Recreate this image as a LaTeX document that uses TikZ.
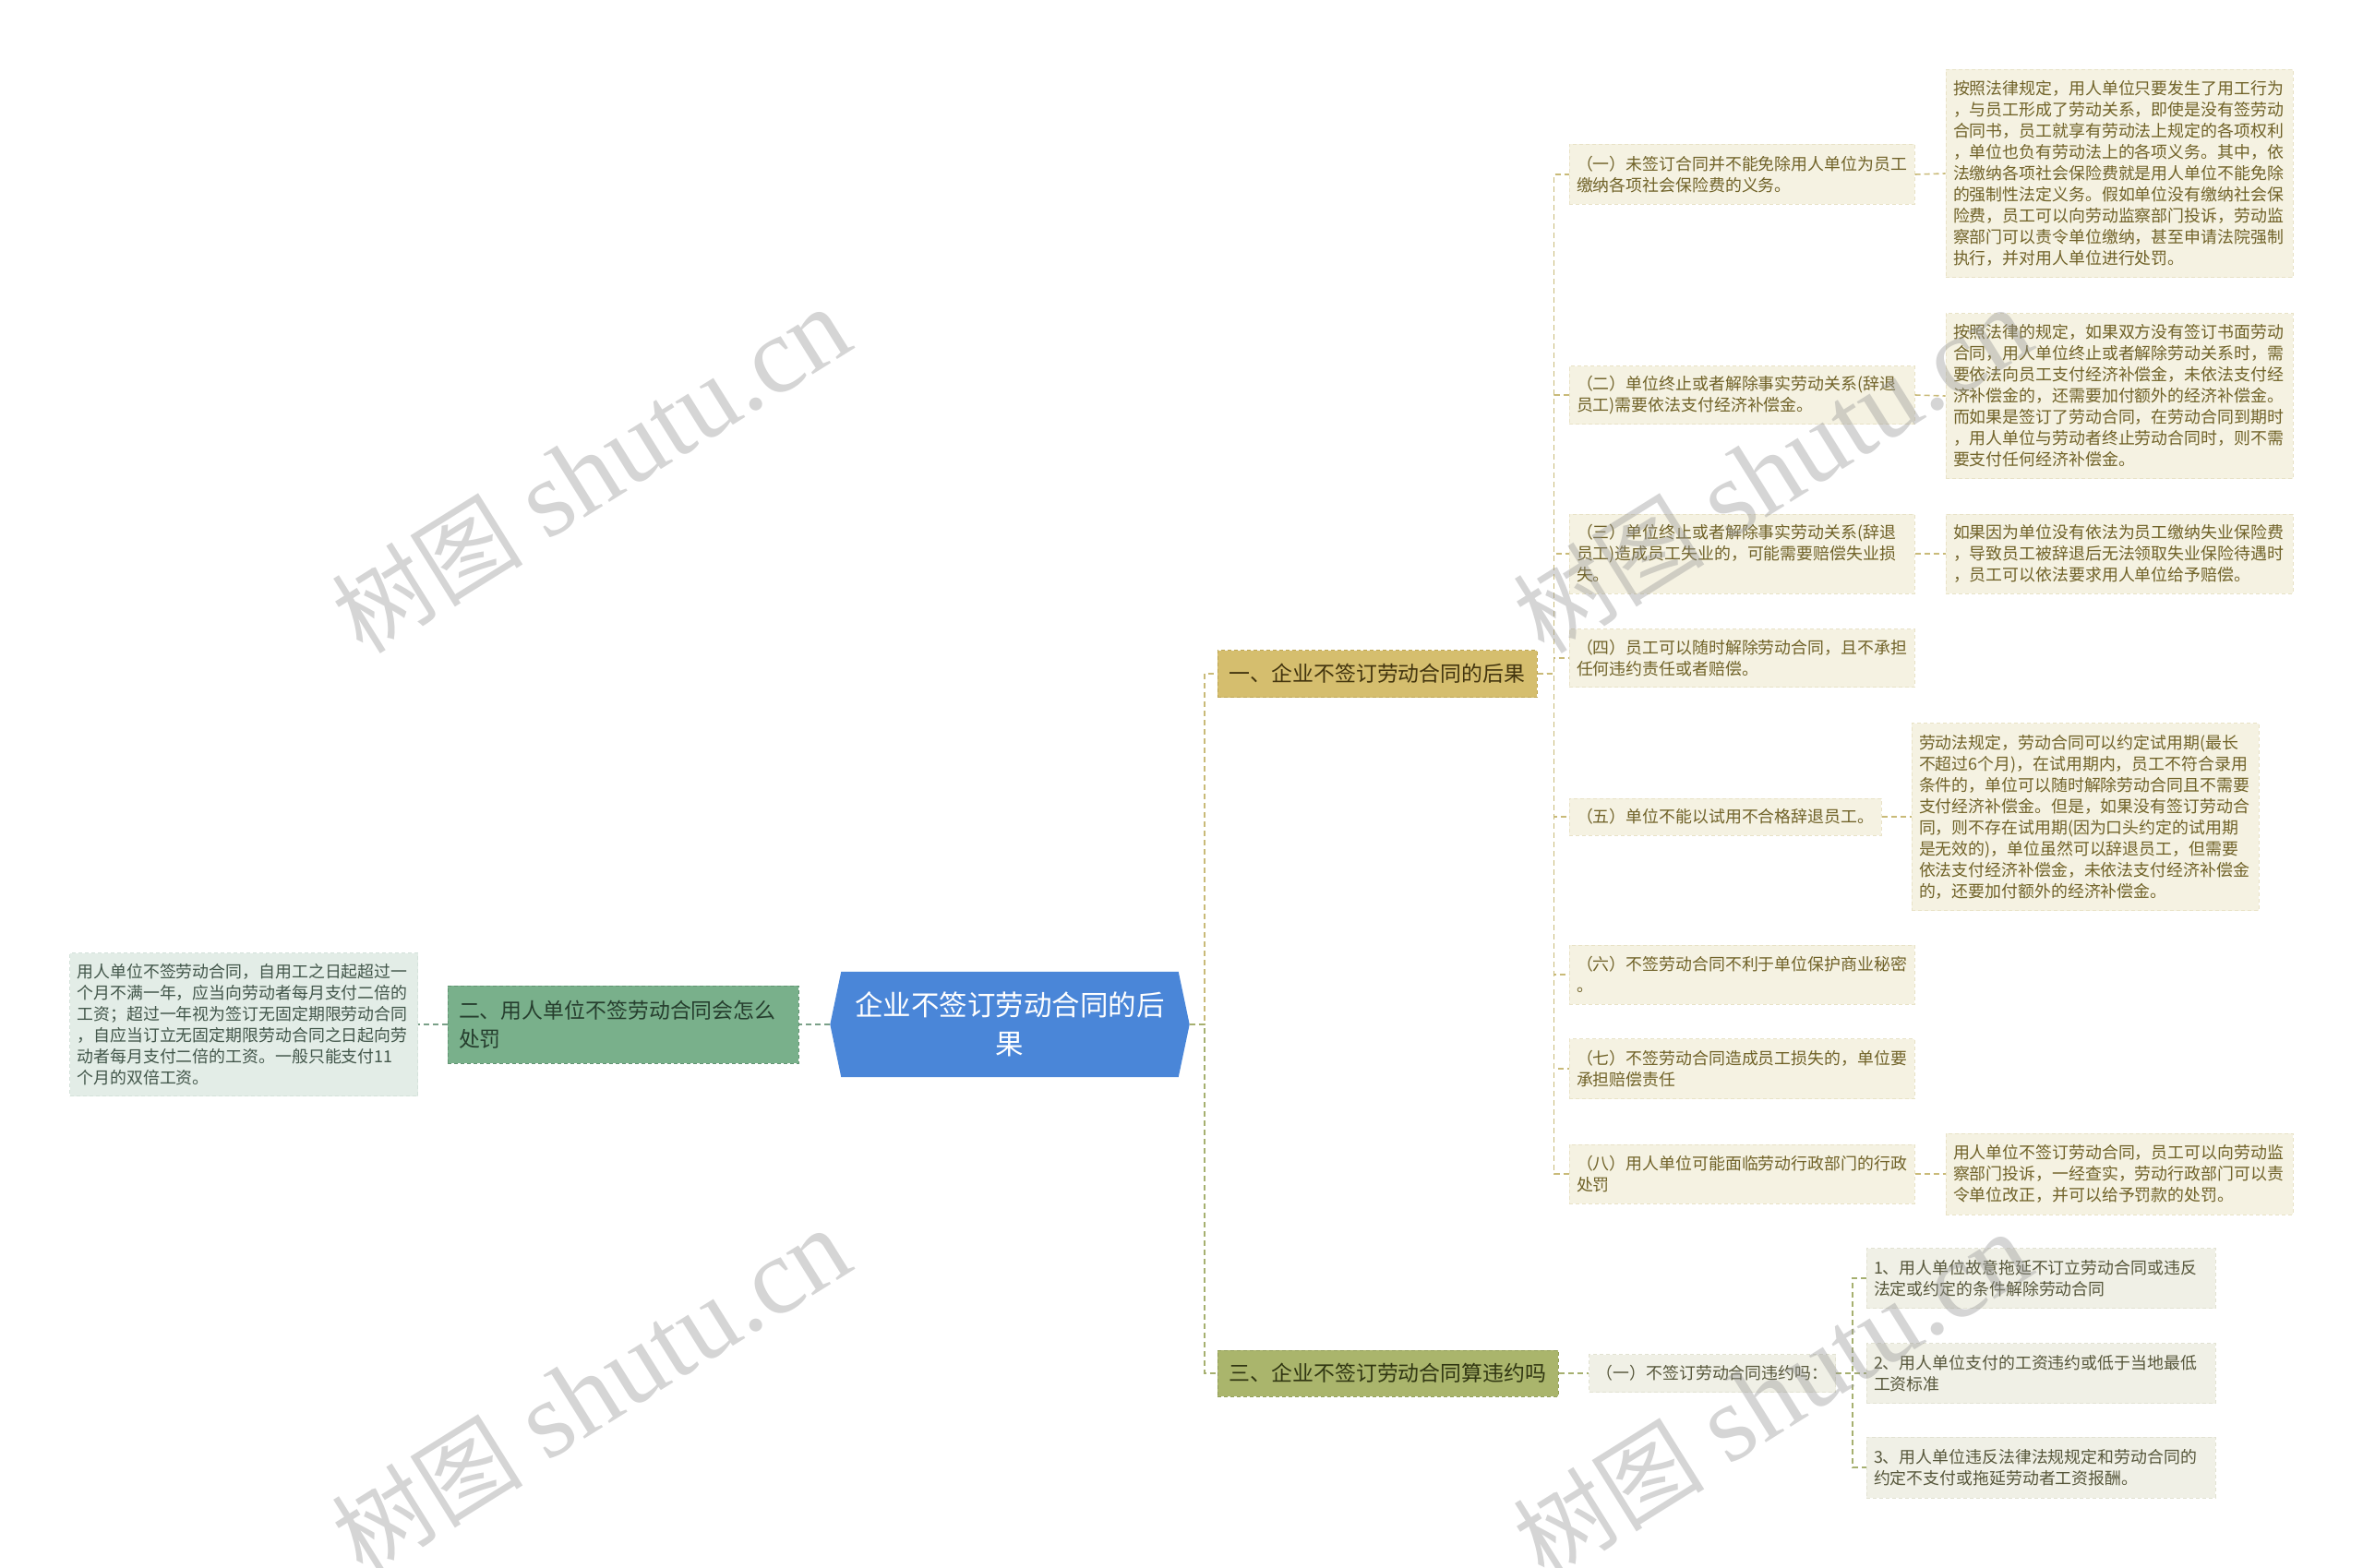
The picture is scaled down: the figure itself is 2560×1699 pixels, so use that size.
\documentclass[tikz,border=0pt]{standalone}
\usepackage{fontspec}
\setmainfont{Noto Sans CJK SC}
\newfontfamily\wmlatin{Liberation Serif}
\usepackage{xcolor}
\usetikzlibrary{calc,backgrounds}
\definecolor{RootBlue}{RGB}{74,134,216}
\definecolor{OneFill}{RGB}{213,190,110}
\definecolor{OneLine}{RGB}{190,166,82}
\definecolor{OneText}{RGB}{66,52,14}
\definecolor{TwoFill}{RGB}{121,176,139}
\definecolor{TwoLine}{RGB}{98,148,114}
\definecolor{TwoText}{RGB}{38,62,46}
\definecolor{ThreeFill}{RGB}{170,181,108}
\definecolor{ThreeLine}{RGB}{146,158,88}
\definecolor{ThreeText}{RGB}{48,54,18}
\definecolor{Cream}{RGB}{245,242,226}
\definecolor{CreamLine}{RGB}{232,226,198}
\definecolor{CreamText}{RGB}{112,98,40}
\definecolor{Mint}{RGB}{227,237,231}
\definecolor{MintLine}{RGB}{212,226,218}
\definecolor{MintText}{RGB}{66,86,74}
\definecolor{Pale}{RGB}{240,240,230}
\definecolor{PaleLine}{RGB}{226,226,210}
\definecolor{PaleText}{RGB}{86,86,58}
\definecolor{LinkTan}{RGB}{201,186,120}
\definecolor{LinkGreen}{RGB}{122,160,136}
\definecolor{LinkOlive}{RGB}{166,176,112}
\definecolor{WaterGray}{RGB}{150,150,150}

\begin{document}
\begin{tikzpicture}[x=1pt,y=-1pt,
  box/.style={rectangle,inner xsep=8pt,inner ysep=0pt,line width=1pt,dash pattern=on 4pt off 3pt},
  small/.style={font=\fontsize{17.9}{23}\selectfont},
  big/.style={font=\fontsize{22.9}{31}\selectfont},
  sub/.style={box,small,fill=Cream,draw=CreamLine,text=CreamText,align=left},
  mint/.style={box,small,fill=Mint,draw=MintLine,text=MintText,align=left},
  pale/.style={box,small,fill=Pale,draw=PaleLine,text=PaleText,align=left},
  rootnode/.style={rectangle,minimum width=389pt,minimum height=114pt,text=white,align=center,font=\fontsize{30.5}{42}\selectfont},
  link1/.style={draw=LinkTan,line width=1.6pt,dash pattern=on 6pt off 4pt},
  link2/.style={draw=LinkGreen,line width=1.6pt,dash pattern=on 6pt off 4pt},
  link3/.style={draw=LinkOlive,line width=1.6pt,dash pattern=on 6pt off 4pt},
  wmtext/.style={text=WaterGray,opacity=0.4,rotate=32,font=\fontsize{118}{118}\selectfont}]
\useasboundingbox (0,0) rectangle (2560,1699); % page frame

% centre topic
\node[rootnode] (root) at (1094,1110) {企业不签订劳动合同的后\\果}; % main topic
\begin{scope}[on background layer]
\fill[RootBlue] (root.west) -- ([xshift=12pt]root.north west) -- ([xshift=-12pt]root.north east) -- (root.east) -- ([xshift=-12pt]root.south east) -- ([xshift=12pt]root.south west) -- cycle; % hexagon body
\end{scope}

% three branches
\node[box,big,fill=OneFill,draw=OneLine,text=OneText,minimum width=346pt,minimum height=51pt] (b1) at (1492,730) {一、企业不签订劳动合同的后果}; % branch one
\node[box,big,fill=TwoFill,draw=TwoLine,text=TwoText,inner xsep=12pt,text width=356pt,minimum height=84pt,align=left] (b2) at (675,1110) {二、用人单位不签劳动合同会怎么\\处罚}; % branch two
\node[box,big,fill=ThreeFill,draw=ThreeLine,text=ThreeText,minimum width=369pt,minimum height=50pt] (b3) at (1503.5,1488) {三、企业不签订劳动合同算违约吗}; % branch three

% items of branch one
\node[sub,text width=358pt,minimum height=65pt] (s1) at (1887,189) {（一）未签订合同并不能免除用人单位为员工\\缴纳各项社会保险费的义务。}; % item 1
\node[sub,text width=358pt,minimum height=63pt] (s2) at (1887,428) {（二）单位终止或者解除事实劳动关系(辞退\\员工)需要依法支付经济补偿金。}; % item 2
\node[sub,text width=358pt,minimum height=86pt] (s3) at (1887,600) {（三）单位终止或者解除事实劳动关系(辞退\\员工)造成员工失业的，可能需要赔偿失业损\\失。}; % item 3
\node[sub,text width=358pt,minimum height=63pt] (s4) at (1887,713) {（四）员工可以随时解除劳动合同，且不承担\\任何违约责任或者赔偿。}; % item 4
\node[sub,text width=322pt,minimum height=40pt] (s5) at (1869,885) {（五）单位不能以试用不合格辞退员工。}; % item 5
\node[sub,text width=358pt,minimum height=64pt] (s6) at (1887,1056) {（六）不签劳动合同不利于单位保护商业秘密\\。}; % item 6
\node[sub,text width=358pt,minimum height=65pt] (s7) at (1887,1158) {（七）不签劳动合同造成员工损失的，单位要\\承担赔偿责任}; % item 7
\node[sub,text width=358pt,minimum height=64pt] (s8) at (1887,1272) {（八）用人单位可能面临劳动行政部门的行政\\处罚}; % item 8

% explanations on the far right
\node[sub,text width=360pt,minimum height=225pt] (l1) at (2296,188) {按照法律规定，用人单位只要发生了用工行为\\，与员工形成了劳动关系，即使是没有签劳动\\合同书，员工就享有劳动法上规定的各项权利\\，单位也负有劳动法上的各项义务。其中，依\\法缴纳各项社会保险费就是用人单位不能免除\\的强制性法定义务。假如单位没有缴纳社会保\\险费，员工可以向劳动监察部门投诉，劳动监\\察部门可以责令单位缴纳，甚至申请法院强制\\执行，并对用人单位进行处罚。}; % note 1
\node[sub,text width=360pt,minimum height=179pt] (l2) at (2296,429) {按照法律的规定，如果双方没有签订书面劳动\\合同，用人单位终止或者解除劳动关系时，需\\要依法向员工支付经济补偿金，未依法支付经\\济补偿金的，还需要加付额外的经济补偿金。\\而如果是签订了劳动合同，在劳动合同到期时\\，用人单位与劳动者终止劳动合同时，则不需\\要支付任何经济补偿金。}; % note 2
\node[sub,text width=360pt,minimum height=86pt] (l3) at (2296,600) {如果因为单位没有依法为员工缴纳失业保险费\\，导致员工被辞退后无法领取失业保险待遇时\\，员工可以依法要求用人单位给予赔偿。}; % note 3
\node[sub,text width=360pt,minimum height=203pt] (l5) at (2259,885) {劳动法规定，劳动合同可以约定试用期(最长\\不超过6个月)，在试用期内，员工不符合录用\\条件的，单位可以随时解除劳动合同且不需要\\支付经济补偿金。但是，如果没有签订劳动合\\同，则不存在试用期(因为口头约定的试用期\\是无效的)，单位虽然可以辞退员工，但需要\\依法支付经济补偿金，未依法支付经济补偿金\\的，还要加付额外的经济补偿金。}; % note 5
\node[sub,text width=360pt,minimum height=88pt] (l8) at (2296,1272) {用人单位不签订劳动合同，员工可以向劳动监\\察部门投诉，一经查实，劳动行政部门可以责\\令单位改正，并可以给予罚款的处罚。}; % note 8

% left note of branch two
\node[mint,text width=361pt,minimum height=155pt] (ll) at (264,1110) {用人单位不签劳动合同，自用工之日起超过一\\个月不满一年，应当向劳动者每月支付二倍的\\工资；超过一年视为签订无固定期限劳动合同\\，自应当订立无固定期限劳动合同之日起向劳\\动者每月支付二倍的工资。一般只能支付11\\个月的双倍工资。}; % penalty note

% branch three children
\node[pale,minimum width=267pt,minimum height=41pt] (c31) at (1855,1488) {（一）不签订劳动合同违约吗：}; % question
\node[pale,text width=362pt,minimum height=65pt] (d1) at (2211,1385) {1、用人单位故意拖延不订立劳动合同或违反\\法定或约定的条件解除劳动合同}; % case 1
\node[pale,text width=362pt,minimum height=65pt] (d2) at (2211,1488) {2、用人单位支付的工资违约或低于当地最低\\工资标准}; % case 2
\node[pale,text width=362pt,minimum height=66pt] (d3) at (2211,1590) {3、用人单位违反法律法规规定和劳动合同的\\约定不支付或拖延劳动者工资报酬。}; % case 3

% connectors
\draw[link1] (root.east) -- ++(16,0) |- (b1.west); % root to branch one
\draw[link3] (root.east) -- ++(16,0) |- (b3.west); % root to branch three
\draw[link2] (root.west) -- (b2.east); % root to branch two
\draw[link2] (b2.west) -- (ll.east); % branch two to note
\foreach \s in {s1,s2,s3,s4,s5,s6,s7,s8}
  \draw[link1] (b1.east) -- ++(18,0) |- (\s.west); % branch one to items
\foreach \a/\b in {s1/l1,s2/l2,s3/l3,s5/l5,s8/l8}
  \draw[link1] (\a.east) -- (\b.west); % items to notes
\draw[link3] (b3.east) -- (c31.west); % branch three to question
\foreach \d in {d1,d2,d3}
  \draw[link3] (c31.east) -- ++(18,0) |- (\d.west); % question to cases

% watermarks
\foreach \wx/\wy [count=\n] in {640/510,640/1508,1920/510,1920/1512}
  \node[wmtext] (wm\n) at (\wx,\wy) {{\fontsize{104}{104}\selectfont 树图} {\wmlatin shutu.cn}}; % shutu mark
\end{tikzpicture}
\end{document}
